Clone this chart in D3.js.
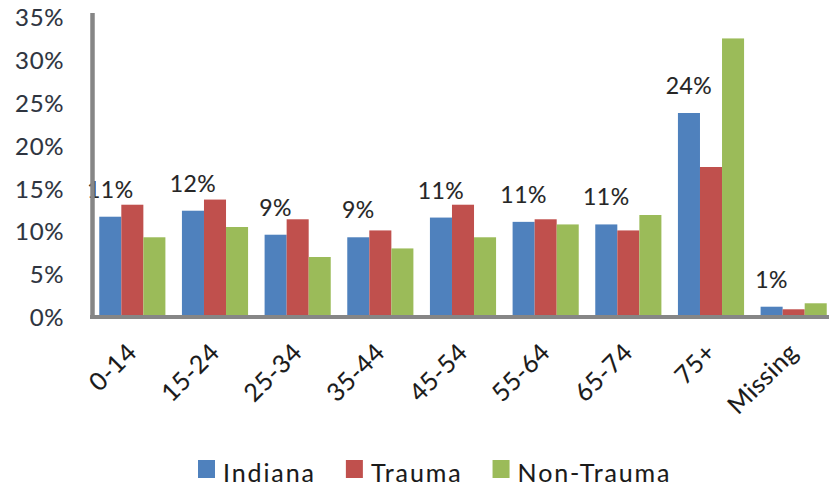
<!DOCTYPE html>
<html>
<head>
<meta charset="utf-8">
<script src="https://cdn.jsdelivr.net/npm/d3@7"></script>
<style>
  html, body { margin: 0; padding: 0; background: #fff; }
  svg { display: block; }
  text { font-family: Lato, "Open Sans", sans-serif; }
</style>
</head>
<body>
<svg id="chart" width="829" height="487"></svg>
<script>
const categories = ["0-14", "15-24", "25-34", "35-44", "45-54", "55-64", "65-74", "75+", "Missing"];
const seriesNames = ["Indiana", "Trauma", "Non-Trauma"];
const indiana   = [11.7, 12.4, 9.6, 9.3, 11.6, 11.1, 10.8, 23.8, 1.2];
const trauma    = [13.1, 13.7, 11.4, 10.1, 13.1, 11.4, 10.1, 17.5, 0.9];
const nonTrauma = [9.3, 10.5, 7.0, 8.0, 9.3, 10.8, 11.9, 32.5, 1.6];
const dataLabels = ["11%", "12%", "9%", "9%", "11%", "11%", "11%", "24%", "1%"];
const yTicks = [0, 5, 10, 15, 20, 25, 30, 35];
const colors = ["#4F81BD", "#C0504D", "#9BBB59"];

const seriesValues = [indiana, trauma, nonTrauma];
const svg = d3.select("#chart");

const y = d3.scaleLinear().domain([0, 35]).range([317, 17]);
const x0 = d3.scaleBand().domain(categories).range([91, 835]).paddingInner(0.2).paddingOuter(0.1);
const x1 = d3.scaleBand().domain(seriesNames).range([0, x0.bandwidth()]);
const color = d3.scaleOrdinal().domain(seriesNames).range(colors);

// bars
const groups = svg.append("g").selectAll("g")
  .data(categories)
  .join("g")
  .attr("transform", d => `translate(${x0(d)},0)`);

groups.selectAll("rect")
  .data((d, i) => seriesNames.map((s, k) => ({ s, v: seriesValues[k][i] })))
  .join("rect")
  .attr("x", d => x1(d.s))
  .attr("width", x1.bandwidth())
  .attr("y", d => y(d.v))
  .attr("height", d => y(0) - y(d.v))
  .attr("fill", d => color(d.s));

// data labels above Indiana bar
svg.append("g").selectAll("text")
  .data(categories)
  .join("text")
  .attr("x", (d, i) => x0(d) + x1("Indiana") + x1.bandwidth() / 2)
  .attr("y", (d, i) => y(indiana[i]) - 19)
  .attr("text-anchor", "middle")
  .attr("font-size", 23)
  .attr("letter-spacing", 0.5)
  .attr("fill", "#262626")
  .attr("stroke", "#262626").attr("stroke-width", 0.12)
  .text((d, i) => dataLabels[i]);

// y axis tick labels
const yAxis = d3.axisLeft(y).tickValues(yTicks).tickFormat(d => d + "%").tickSize(0).tickPadding(0);
const ya = svg.append("g").attr("transform", "translate(64,0)").call(yAxis);
ya.select(".domain").remove();
ya.selectAll("text")
  .attr("font-size", 24)
  .attr("font-family", "Lato, sans-serif")
  .attr("letter-spacing", 0.6)
  .attr("fill", "#2e3440")
  .attr("stroke", "#2e3440").attr("stroke-width", 0.12)
  .attr("dy", "0.36em")
  .attr("x", 0);

// axis lines
svg.append("line").attr("x1", 92.5).attr("x2", 92.5).attr("y1", 13).attr("y2", 319)
  .attr("stroke", "#868686").attr("stroke-width", 4.5);
svg.append("line").attr("x1", 90).attr("x2", 829).attr("y1", 317).attr("y2", 317)
  .attr("stroke", "#868686").attr("stroke-width", 4);

// category labels
svg.append("g").selectAll("text")
  .data(categories)
  .join("text")
  .attr("transform", d => `translate(${x0(d) + x0.bandwidth() / 2 + 6},354) rotate(-45)`)
  .attr("text-anchor", "end")
  .attr("font-size", 25)
  .attr("letter-spacing", 0.5)
  .attr("fill", "#1a1a1a")
  .attr("stroke", "#1a1a1a").attr("stroke-width", 0.12)
  .text(d => d);

// legend
const legend = svg.append("g");
let lx = 198;
seriesNames.forEach((s, k) => {
  legend.append("rect").attr("x", lx).attr("y", 460).attr("width", 17).attr("height", 18).attr("fill", colors[k]);
  const t = legend.append("text").attr("x", lx + 25).attr("y", 482)
    .attr("font-size", 25).attr("letter-spacing", 1.9).attr("fill", "#1a1a1a")
    .attr("stroke", "#1a1a1a").attr("stroke-width", 0.1).text(s);
  lx = lx + 25 + t.node().getComputedTextLength() + 30;
});
</script>
</body>
</html>
